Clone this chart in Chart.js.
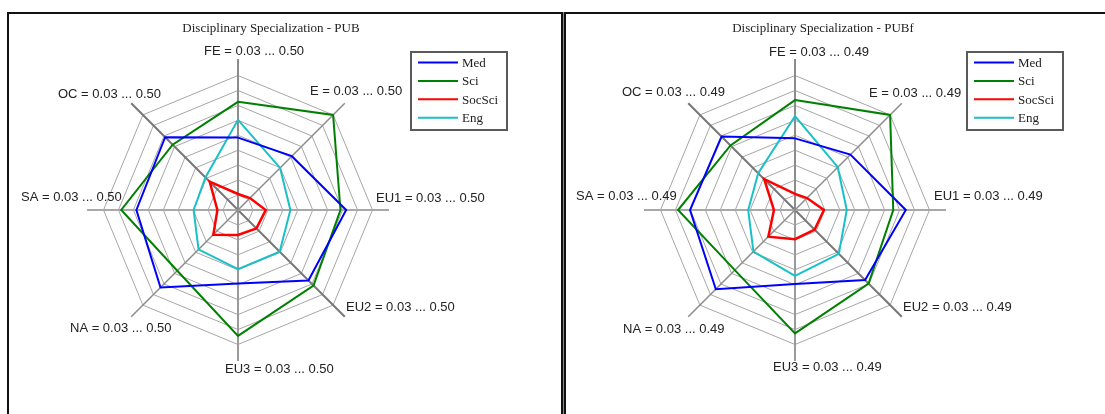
<!DOCTYPE html>
<html>
<head>
<meta charset="utf-8">
<script src="https://cdn.jsdelivr.net/npm/chart.js@4"></script>
<style>
  html, body { margin: 0; padding: 0; background: #fff; width: 1105px; height: 414px; overflow: hidden; }
  .panel { position: absolute; top: 12px; box-sizing: border-box; border-top: 2px solid #111; height: 430px; }
  #p1 { left: 7px; width: 556px; border-left: 2px solid #111; border-right: 2px solid #111; }
  #p2 { left: 564px; width: 560px; border-left: 2px solid #111; }
  #gap { position: absolute; left: 563px; top: 12px; width: 1px; height: 430px; background: #8a8a8a; }
  canvas { position: absolute; top: 0; left: 0; }
</style>
</head>
<body>
<div class="panel" id="p1"><canvas id="c1" width="552" height="400"></canvas></div>
<div id="gap"></div>
<div class="panel" id="p2"><canvas id="c2" width="539" height="400"></canvas></div>
<script>
// Axes (clockwise from the top) and series
const axes = ['FE', 'E', 'EU1', 'EU2', 'EU3', 'NA', 'SA', 'OC'];
const seriesNames = ['Med', 'Sci', 'SocSci', 'Eng'];

// PUB
const pubTitle = 'Disciplinary Specialization - PUB';
const pubRange = ['0.03', '0.50'];
const pubMed    = [0.283, 0.296, 0.408, 0.378, 0.287, 0.413, 0.385, 0.390];
const pubSci    = [0.408, 0.500, 0.388, 0.403, 0.470, 0.330, 0.438, 0.353];
const pubSocSci = [0.086, 0.089, 0.127, 0.121, 0.117, 0.152, 0.102, 0.170];
const pubEng    = [0.345, 0.238, 0.213, 0.236, 0.237, 0.225, 0.185, 0.191];

// PUBf
const pubfTitle = 'Disciplinary Specialization - PUBf';
const pubfRange = ['0.03', '0.49'];
const pubfMed    = [0.275, 0.298, 0.409, 0.369, 0.283, 0.413, 0.389, 0.385];
const pubfSci    = [0.406, 0.490, 0.366, 0.386, 0.452, 0.321, 0.430, 0.342];
const pubfSocSci = [0.085, 0.088, 0.129, 0.125, 0.130, 0.159, 0.102, 0.179];
const pubfEng    = [0.351, 0.237, 0.207, 0.242, 0.255, 0.231, 0.190, 0.208];

const seriesColors = ['#0000ff', '#008000', '#ff0000', '#19c0c8'];
const seriesWidths = [2, 2, 2.5, 2];

// spoke styling per axis
const spokeColors = ['#8c8c8c', '#8c8c8c', '#a8a8a8', '#777777', '#9a9a9a', '#8c8c8c', '#a8a8a8', '#777777'];
const spokeWidths = [2, 1.5, 2, 2, 2, 1.5, 2, 2];

const RINGS = 9;
const OUTER = 134.5;   // radius of the outermost ring
const SPOKE = 151;     // spoke length

Chart.defaults.devicePixelRatio = 1;

function makeChart(canvasId, title, range, series, layout) {
  const lo = parseFloat(range[0]);
  const hi = parseFloat(range[1]);
  const top = lo + (hi - lo) * SPOKE / OUTER;

  const decor = {
    id: 'decor',
    afterDraw(chart) {
      const ctx = chart.ctx;
      const r = chart.scales.r;
      const cx = r.xCenter, cy = r.yCenter;
      ctx.save();
      // title
      ctx.fillStyle = '#222';
      ctx.font = '13px "Liberation Serif", "Times New Roman", serif';
      ctx.textAlign = 'center';
      ctx.textBaseline = 'middle';
      ctx.fillText(title, cx + layout.titleDx, 15);
      // axis labels
      ctx.font = '13px "Liberation Sans", Arial, sans-serif';
      ctx.textAlign = 'left';
      ctx.fillStyle = '#222';
      chart.data.labels.forEach((lab, i) => {
        const [dx, dy] = layout.labelOffsets[i];
        ctx.fillText(lab + ' = ' + range[0] + ' ... ' + range[1], cx + dx, cy + dy);
      });
      // legend
      const bx = cx + layout.legendDx, by = 38, bw = 96, bh = 78;
      ctx.fillStyle = '#fff';
      ctx.fillRect(bx, by, bw, bh);
      ctx.strokeStyle = '#5a5a5a';
      ctx.lineWidth = 2;
      ctx.strokeRect(bx, by, bw, bh);
      ctx.font = '13px "Liberation Serif", "Times New Roman", serif';
      chart.data.datasets.forEach((ds, k) => {
        const y = by + 10.5 + k * 18.4;
        ctx.strokeStyle = ds.borderColor;
        ctx.lineWidth = 2;
        ctx.beginPath();
        ctx.moveTo(bx + 7, y);
        ctx.lineTo(bx + 47, y);
        ctx.stroke();
        ctx.fillStyle = '#222';
        ctx.fillText(ds.label, bx + 51, y + 1);
      });
      ctx.restore();
    }
  };

  return new Chart(document.getElementById(canvasId), {
    type: 'radar',
    data: {
      labels: axes,
      datasets: seriesNames.map((name, k) => ({
        label: name,
        data: series[k],
        borderColor: seriesColors[k],
        borderWidth: seriesWidths[k],
        backgroundColor: 'transparent',
        fill: false,
        pointRadius: 0,
        pointHoverRadius: 0,
        tension: 0
      }))
    },
    options: {
      responsive: false,
      animation: false,
      events: [],
      layout: { padding: layout.padding },
      plugins: { legend: { display: false }, title: { display: false }, tooltip: { enabled: false } },
      scales: {
        r: {
          min: lo,
          max: top,
          ticks: { display: false },
          pointLabels: { display: false },
          grid: { color: '#a6a6a6', lineWidth: 1, circular: false },
          angleLines: {
            color: c => spokeColors[c.index],
            lineWidth: c => spokeWidths[c.index]
          },
          afterBuildTicks: scale => {
            const t = [];
            for (let k = 0; k <= RINGS; k++) t.push({ value: lo + (hi - lo) * k / RINGS });
            scale.ticks = t;
          }
        }
      }
    },
    plugins: [decor]
  });
}

makeChart('c1', pubTitle, pubRange, [pubMed, pubSci, pubSocSci, pubEng], {
  padding: { left: 78, top: 45, right: 552 - 229 - 151, bottom: 400 - 196 - 151 },
  titleDx: 33,
  legendDx: 173,
  labelOffsets: [[-34, -159], [72, -119], [138, -12], [108, 97], [-13, 159], [-168, 118], [-217, -13], [-180, -116]]
});

makeChart('c2', pubfTitle, pubfRange, [pubfMed, pubfSci, pubfSocSci, pubfEng], {
  padding: { left: 78, top: 45, right: 539 - 229 - 151, bottom: 400 - 196 - 151 },
  titleDx: 28,
  legendDx: 172,
  labelOffsets: [[-26, -158], [74, -117], [139, -14], [108, 97], [-22, 157], [-172, 119], [-219, -14], [-173, -118]]
});
</script>
</body>
</html>
